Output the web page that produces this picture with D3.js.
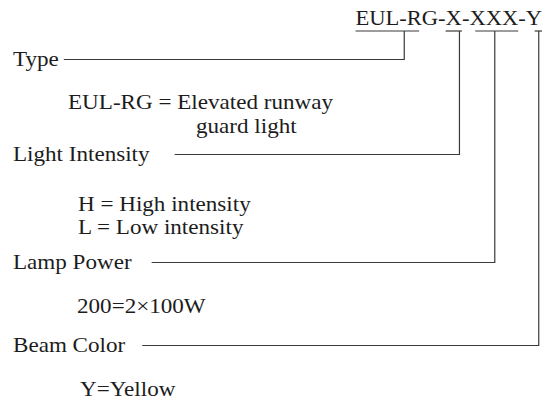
<!DOCTYPE html>
<html>
<head>
<meta charset="utf-8">
<script src="https://cdn.jsdelivr.net/npm/d3@7"></script>
<style>
  body { margin: 0; background: #fff; }
  text { font-family: "Liberation Serif", "Times New Roman", serif; fill: #1c1c1c; }
</style>
</head>
<body>
<svg id="chart" width="549" height="401"></svg>
<script>
// code parts and what they mean
const codeParts = ['EUL-RG', 'X', 'XXX', 'Y']
const fieldNames = ['Type', 'Light Intensity', 'Lamp Power', 'Beam Color']
const fieldDescriptions = [
  ['EUL-RG = Elevated runway', 'guard light'],
  ['H = High intensity', 'L = Low intensity'],
  ['200=2\u00d7100W'],
  ['Y=Yellow']
]

// layout
const W = 549; const H = 401
const sx = 1.1 // the scan is a bit wider than plain Times
const fontSize = 21
const codeRight = 542; const codeBase = 25; const underY = 31
const labelX = 13
const labelBase = [66, 161, 269, 352]
const lineGap = [5, 25, 20, 17]
const anchorFrac = [0.59, 0.85, 0.52, 0.8]
const underFrac = [[0, 0.77], [0, 1], [0.12, 1], [0.55, 1]]
const descX = [[68, 196], [78, 78], [77], [80]]
const descBase = [[109, 133], [211, 234], [313], [396]]

const svg = d3.select('#chart')
  .attr('width', W)
  .attr('height', H)

const codeText = svg.append('text')
  .attr('transform', `translate(${codeRight},${codeBase}) scale(${sx},1)`)
  .attr('text-anchor', 'end')
  .style('font-size', (fontSize - 0.5) + 'px')
  .text(codeParts.join('-'))

// where each part sits in the code string
const node = codeText.node()
let idx = 0
const segs = codeParts.map(p => {
  const x0 = node.getStartPositionOfChar(idx).x
  const x1 = node.getEndPositionOfChar(idx + p.length - 1).x
  idx += p.length + 1
  return { x0: codeRight + sx * x0, x1: codeRight + sx * x1 }
})

const lineColor = '#3a3a3a'
const at = (s, f) => s.x0 + (s.x1 - s.x0) * f

svg.selectAll('line.under')
  .data(segs)
  .enter()
  .append('line')
  .attr('class', 'under')
  .attr('x1', (d, i) => at(d, underFrac[i][0]))
  .attr('x2', (d, i) => at(d, underFrac[i][1]))
  .attr('y1', underY)
  .attr('y2', underY)
  .attr('stroke', lineColor)
  .attr('stroke-width', 1.2)

const labels = svg.selectAll('text.label')
  .data(fieldNames)
  .enter()
  .append('text')
  .attr('class', 'label')
  .attr('transform', (d, i) => `translate(${labelX},${labelBase[i]}) scale(${sx},1)`)
  .style('font-size', fontSize + 'px')
  .text(d => d)

labels.each(function (d, i) {
  const end = labelX + sx * this.getComputedTextLength()
  const cx = at(segs[i], anchorFrac[i])
  const ly = labelBase[i] - 6.5
  svg.append('path')
    .attr('d', `M${end + lineGap[i]},${ly}H${cx}V${underY}`)
    .attr('fill', 'none')
    .attr('stroke', lineColor)
    .attr('stroke-width', 1.2)
})

fieldDescriptions.forEach((lines, i) => {
  svg.selectAll(null)
    .data(lines)
    .enter()
    .append('text')
    .attr('transform', (d, j) => `translate(${descX[i][j]},${descBase[i][j]}) scale(${sx},1)`)
    .style('font-size', fontSize + 'px')
    .text(d => d)
})
</script>
</body>
</html>
